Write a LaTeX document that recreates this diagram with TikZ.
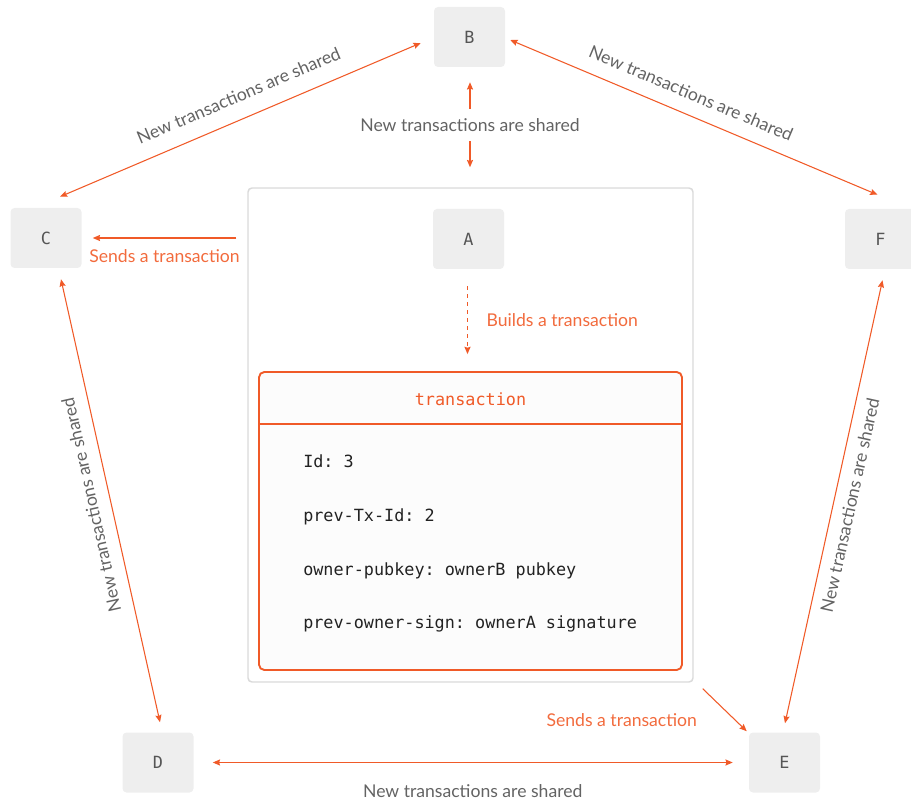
\documentclass[tikz,border=0pt]{standalone}
\usepackage{fontspec}
\setmainfont{Lato}
\setmonofont{DejaVu Sans Mono}
\usetikzlibrary{arrows.meta,calc}
\definecolor{accent}{HTML}{F05A28}
\definecolor{accenttext}{HTML}{F26B3D}
\definecolor{peerfill}{HTML}{EEEEEE}
\definecolor{peertext}{HTML}{555555}
\definecolor{labelgrey}{HTML}{636363}
\definecolor{framegrey}{HTML}{DADADA}
\definecolor{txfill}{HTML}{FCFCFC}
\definecolor{codetext}{HTML}{222222}

\begin{document}
\begin{tikzpicture}[x=0.75pt,y=-0.75pt,
  hd/.tip={Stealth[length=5.5pt,width=4.6pt,inset=0.8pt]},
  peer/.style={fill=peerfill, rounded corners=3pt, minimum width=53.25pt,
    minimum height=45pt, inner sep=0pt, text=peertext,
    font=\ttfamily\fontsize{12.6}{15}\selectfont},
  link/.style={draw=accent, line width=0.8pt},
  sharelbl/.style={text=labelgrey, font=\fontsize{13.2}{15}\selectfont, inner sep=2pt},
  actlbl/.style={text=accenttext, font=\fontsize{13.2}{15}\selectfont, inner sep=2pt},
  code/.style={text=codetext, font=\ttfamily\fontsize{12.6}{15}\selectfont,
    anchor=base west, inner sep=0pt},
]
\useasboundingbox (0,0) rectangle (911,802);

% the sending peer's frame and the transaction it builds
\node[draw=framegrey, line width=1.1pt, fill=white, rounded corners=3pt,
  minimum width=333.75pt, minimum height=370.5pt] (host) at (470.5,435) {};
\node[draw=accent, line width=1.4pt, fill=txfill, rounded corners=4pt,
  minimum width=317.25pt, minimum height=223.5pt] (tx) at (470.5,521) {};
\draw[accent, line width=1.4pt] (tx.west |- 0,424) -- (tx.east |- 0,424);
\node[text=accent, font=\ttfamily\fontsize{12.6}{15}\selectfont, anchor=base]
  (txtitle) at (470.5,405.5) {transaction};
\node[code] (l1) at (303,467) {Id: 3};
\node[code] (l2) at (303,521.5) {prev-Tx-Id: 2};
\node[code] (l3) at (303,575) {owner-pubkey: ownerB pubkey};
\node[code] (l4) at (303,628.5) {prev-owner-sign: ownerA signature};

% peers
\node[peer] (A) at (468.5,239) {A};
\node[peer] (B) at (469.5,37) {B};
\node[peer] (C) at (46,238) {C};
\node[peer] (F) at (880.5,239) {F};
\node[peer] (D) at (158,762.5) {D};
\node[peer] (E) at (784.5,762.5) {E};

% gossip links between peers
\draw[link, hd-hd] ($(C.north)+(14,-11)$) --
  node[pos=0.52, sloped, above=10pt, sharelbl] (lbc) {New transactions are shared}
  ($(B.west)+(-13,6)$);
\draw[link, hd-hd] ($(B.east)+(5,3)$) --
  node[pos=0.47, sloped, above=8.5pt, sharelbl] (lbf) {New transactions are shared}
  ($(F.north)+(-3,-14)$);
\draw[link, hd-hd] ($(D.north)+(2,-10)$) --
  node[sloped, allow upside down, above=7.5pt, sharelbl] (lcd) {New transactions are shared}
  ($(C.south)+(15,11)$);
\draw[link, hd-hd] ($(F.south)+(2,11)$) --
  node[sloped, below=5pt, sharelbl] (lfe) {New transactions are shared}
  ($(E.north)+(0.5,-9)$);
\draw[link, hd-hd] ($(D.east)+(19,0)$) -- ($(E.west)+(-16,0)$)
  node[midway, below=14pt, sharelbl] (lde) {New transactions are shared};
\draw[link, hd-hd] ($(B.south)+(0.5,15)$) --
  node[fill=white, sharelbl, inner ysep=7pt] (lba) {New transactions are shared}
  ($(host.north)+(-0.5,-20)$);

% A sends and builds
\draw[link, -hd] ($(host.west)+(-11,-197)$) -- ($(C.east)+(11,0)$)
  node[midway, below=6.5pt, actlbl] (lac) {Sends a transaction};
\draw[link, dashed, dash pattern=on 3pt off 3pt, -hd]
  ($(A.south)+(-1,17)$) -- ($(A.south |- tx.north)+(-1,-17)$)
  node[midway, right=12pt, actlbl] (lbuild) {Builds a transaction};
\draw[link, -hd] ($(host.south east)+(9,6)$) -- ($(E.north west)+(-2,-1)$)
  node[pos=0.7, anchor=east, xshift=-25pt, yshift=-1.5pt, actlbl] (lae)
  {Sends a transaction};
\end{tikzpicture}
\end{document}
